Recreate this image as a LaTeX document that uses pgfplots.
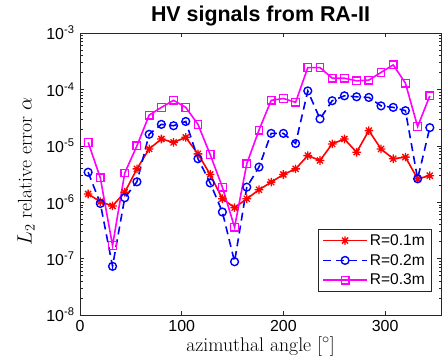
\documentclass[border=0pt]{standalone}
\usepackage{fontspec}
\setmainfont{Liberation Sans}
\newfontfamily\lmr{Latin Modern Roman}
\usepackage{pgfplots}
\pgfplotsset{compat=1.18}
\definecolor{mred}{rgb}{1,0,0}
\definecolor{mblue}{rgb}{0,0,1}
\definecolor{mmag}{rgb}{1,0,1}
\pgfdeclareplotmark{mstar}{%
  \pgfpathmoveto{\pgfqpoint{0pt}{\pgfplotmarksize}}\pgfpathlineto{\pgfqpoint{0pt}{-\pgfplotmarksize}}%
  \pgfpathmoveto{\pgfqpoint{\pgfplotmarksize}{0pt}}\pgfpathlineto{\pgfqpoint{-\pgfplotmarksize}{0pt}}%
  \pgfpathmoveto{\pgfqpoint{0.707\pgfplotmarksize}{0.707\pgfplotmarksize}}\pgfpathlineto{\pgfqpoint{-0.707\pgfplotmarksize}{-0.707\pgfplotmarksize}}%
  \pgfpathmoveto{\pgfqpoint{0.707\pgfplotmarksize}{-0.707\pgfplotmarksize}}\pgfpathlineto{\pgfqpoint{-0.707\pgfplotmarksize}{0.707\pgfplotmarksize}}%
  \pgfusepathqstroke}
\pgfplotstableread{
x red blue mag
8 1.4e-6 3.4e-6 1.15e-5
20 1.02e-6 9.5e-7 2.7e-6
32 8.6e-7 7.3e-8 1.7e-7
44 1.5e-6 1.2e-6 3.3e-6
56 3.9e-6 2.3e-6 1.0e-5
68 8.8e-6 1.6e-5 3.5e-5
80 1.32e-5 2.4e-5 4.8e-5
92 1.15e-5 2.27e-5 6.4e-5
104 1.41e-5 2.7e-5 4.8e-5
116 7.2e-6 5.9e-6 2.4e-5
128 3.1e-6 2.2e-6 7e-6
140 1.15e-6 6.7e-7 1.85e-6
152 8e-7 8.8e-8 3.6e-7
164 1.15e-6 1.85e-6 4.8e-6
176 1.66e-6 4.2e-6 1.9e-5
188 2.27e-6 1.66e-5 6.4e-5
200 3.1e-6 1.66e-5 6.9e-5
212 3.9e-6 1.1e-5 5.9e-5
224 6.7e-6 9.4e-5 2.44e-4
236 5.5e-6 3e-5 2.44e-4
248 1.08e-5 6.3e-5 1.58e-4
260 1.32e-5 7.7e-5 1.58e-4
272 7.7e-6 7.4e-5 1.42e-4
284 1.86e-5 7.2e-5 1.46e-4
296 8.8e-6 5.1e-5 2.0e-4
308 5.9e-6 4.8e-5 2.72e-4
320 6.3e-6 4.2e-5 1.29e-4
332 2.6e-6 2.6e-6 2.19e-5
344 2.95e-6 2.1e-5 7.7e-5
}\data
\begin{document}
\begin{tikzpicture}[x=1bp,y=1bp]
\useasboundingbox (-80,-47) rectangle (363,315);
\begin{axis}[at={(0,0)}, anchor=south west, scale only axis,
  width=361bp, height=282bp,
  ymode=log, xmin=0, xmax=355, ymin=1e-8, ymax=1e-3,
  xtick={0,100,200,300}, xticklabels={0,100,200,300},
  ytick={1e-8,1e-7,1e-6,1e-5,1e-4,1e-3},
  yticklabels={10\textsuperscript{-8},10\textsuperscript{-7},10\textsuperscript{-6},10\textsuperscript{-5},10\textsuperscript{-4},10\textsuperscript{-3}},
  tick label style={font=\fontsize{16}{18}\selectfont},
  xticklabel style={yshift=-2bp},
  yticklabel style={xshift=-2bp},
  tick align=inside, major tick length=4bp, minor tick length=2.5bp,
  axis line style={line width=0.7bp, black!85}, tick style={line width=0.5bp, black!85},
  title={\bfseries HV signals from RA-II},
  title style={font=\fontsize{21.5}{24}\selectfont, at={(axis description cs:0.5,1)}, anchor=base, yshift=6bp},
  xlabel={\lmr azimuthal angle [$^\circ$]},
  ylabel={$L_2$ \lmr relative error $\alpha$},
  xlabel style={font=\fontsize{19.8}{22}\selectfont, at={(axis description cs:0.5,0)}, anchor=base, yshift=-36bp},
  ylabel style={font=\fontsize{19.8}{22}\selectfont, at={(axis description cs:-0.134,0.51)}, anchor=base},
  legend style={at={(axis description cs:0.972,0.083)}, anchor=south east, font=\fontsize{15.6}{18}\selectfont,
    draw=black!85, row sep=3.5bp, inner xsep=4bp, inner ysep=3bp},
  legend cell align=left,
  legend image code/.code={\draw[mark repeat=2,mark phase=2,#1] plot coordinates {(0bp,0bp) (22bp,0bp) (44bp,0bp)};},
  legend image post style={line width=1.6bp},
]
\addplot[mred, line width=1.6bp, mark=mstar, mark size=4.3bp, mark options={line width=1.3bp}] table[x=x,y=red]{\data};
\addlegendentry{R=0.1m}
\addplot[mblue, line width=1.6bp, dash pattern=on 8bp off 5bp, mark=o, mark size=3.9bp, mark options={solid, line width=1.4bp}] table[x=x,y=blue]{\data};
\addlegendentry{R=0.2m}
\addplot[mmag, line width=1.6bp, mark=square, mark size=3.8bp, mark options={line width=1.3bp}] table[x=x,y=mag]{\data};
\addlegendentry{R=0.3m}
\end{axis}
\end{tikzpicture}
\end{document}
